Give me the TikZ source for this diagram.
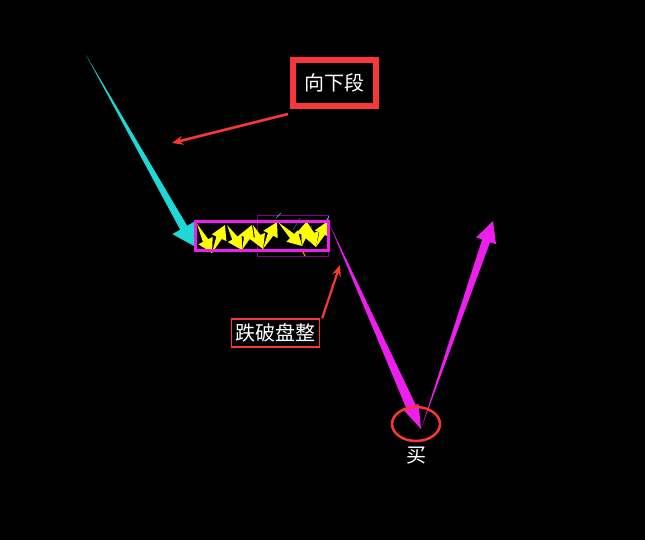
\documentclass[tikz,border=0pt]{standalone}
\usepackage{fontspec}
\newfontfamily\cjk{Noto Sans CJK SC}
\usetikzlibrary{calc,arrows.meta}
\definecolor{bgc}{RGB}{0,0,0}
\definecolor{cyanc}{RGB}{30,215,215}
\definecolor{magc}{RGB}{238,30,238}
\definecolor{yelc}{RGB}{255,255,0}
\definecolor{redc}{RGB}{250,55,55}
\definecolor{purc}{RGB}{128,0,128}
\newcommand\taperarrow[6]{%
  \path ($(#3)!#5!(#2)$) coordinate (tbase);
  \fill[#1] (#2) -- ($(tbase)!#4!90:(#3)$) -- ($(tbase)!#6!90:(#3)$) -- (#3)
    -- ($(tbase)!#6!-90:(#3)$) -- ($(tbase)!#4!-90:(#3)$) -- cycle;}
\newcommand\yarr[2]{\taperarrow{yelc}{#1}{#2}{3pt}{14pt}{8pt}}
\begin{document}
\begin{tikzpicture}[x=1pt,y=-1pt,
  lbl/.style={text=white,font=\cjk\fontsize{20}{24}\selectfont,inner sep=0pt},
  callout/.style={redc,line width=2.6pt,-{Stealth[length=11pt,width=9pt]}}]
\fill[bgc] (0,0) rectangle (645,540);
\useasboundingbox (0,0) rectangle (645,540);
% cyan down arrow
\taperarrow{cyanc}{86,55}{194,246}{4pt}{21pt}{13pt}
% thin purple rectangle
\draw[purc,line width=1pt] (257,216) rectangle (328,256);
% thin cyan wisps
\draw[cyanc,line width=0.7pt] (276,218) -- (281,213);
\draw[cyanc,line width=0.7pt] (326,222) -- (329,216);
\draw[cyanc!60!black,line width=0.6pt] (293,230) -- (300,218);
\draw[cyanc!60!black,line width=0.6pt] (299,243) -- (312,226);
\draw[orange,line width=1.2pt] (302,250) -- (305,256);
% yellow zigzag arrows
\yarr{197,224}{212,253}
\yarr{212,253}{225,225}
\yarr{227,225}{242,250}
\yarr{242,250}{252,225}
\yarr{253,225}{263,249}
\yarr{263,249}{277,222}
\yarr{278,222}{302,246}
\yarr{302,246}{307,221}
\yarr{307,222}{316,247}
\yarr{316,247}{328,221}
% magenta box
\draw[magc,line width=3pt] (195,222) rectangle (328,250);
% magenta down arrow
\taperarrow{magc}{329,223}{421,429}{5pt}{24pt}{8pt}
% magenta up arrow
\taperarrow{magc}{421,429}{493,221}{4.2pt}{21pt}{10.5pt}
% buy circle
\draw[redc,line width=2.5pt] (416,424) ellipse [x radius=24, y radius=17];
\node[lbl] (buy) at (416,456) {买};
% label down segment
\node[lbl,draw=redc,line width=6pt,minimum width=83pt,minimum height=46pt] (down) at (334.5,83) {向下段};
\coordinate (downtip) at (172,143);
\draw[callout] (down.south west) ++(-2,5) coordinate (dfrom) (dfrom) -- (downtip);
% label break consolidation
\node[lbl,draw=redc,line width=1.4pt,inner xsep=4pt,minimum height=28pt] (brk) at (275.5,333) {跌破盘整};
\coordinate (brktip) at (340,265);
\draw[callout,line width=2.2pt] (brk.north east) ++(2,0) coordinate (bfrom) (bfrom) -- (brktip);
\end{tikzpicture}
\end{document}
